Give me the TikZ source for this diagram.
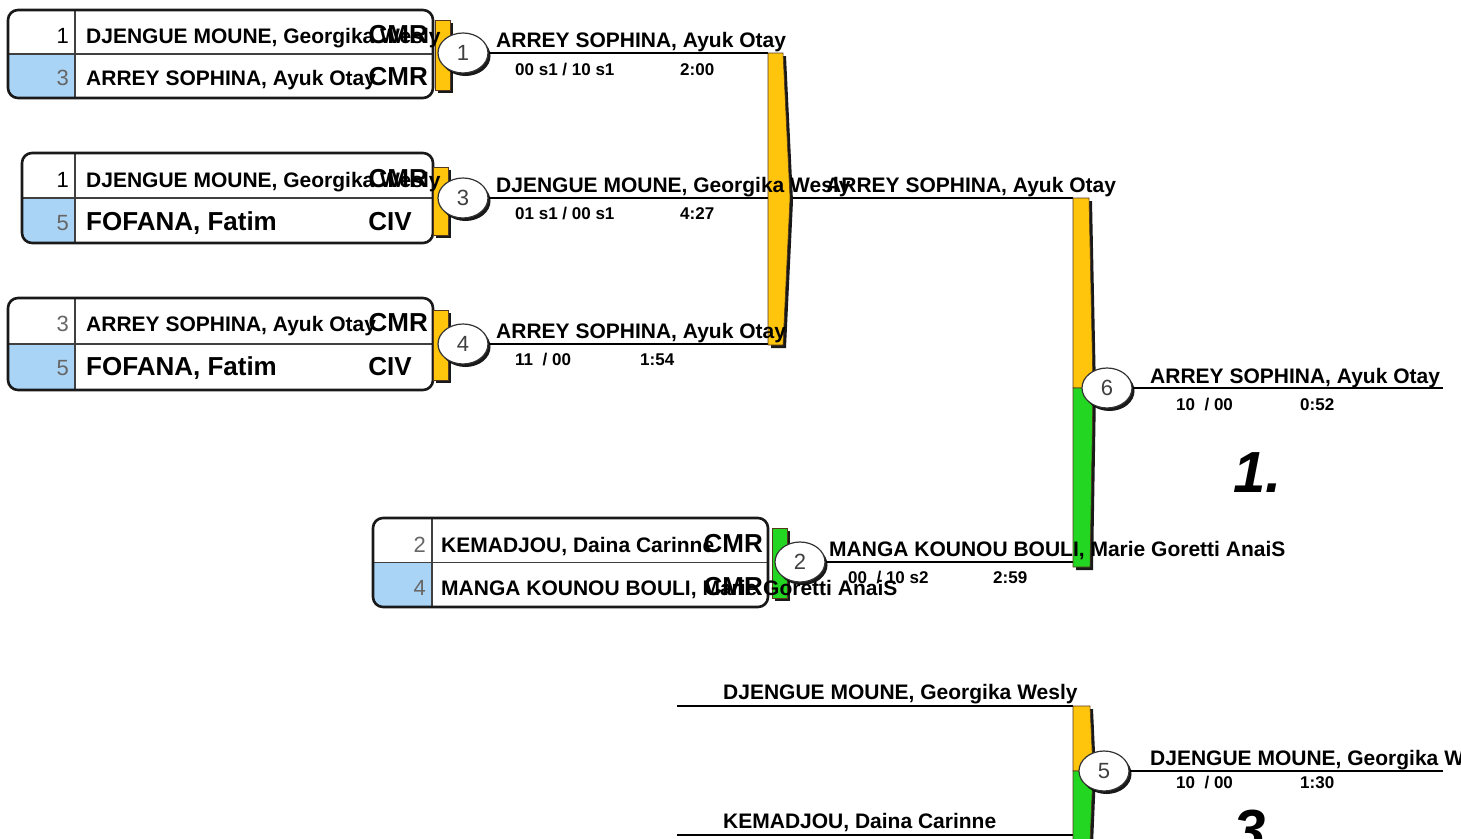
\documentclass[tikz,border=0pt]{standalone}
\usepackage{fontspec}
\setmainfont{Liberation Sans}
\usepackage{xcolor}
\usetikzlibrary{shapes.geometric, shadows}
\definecolor{poolgold}{RGB}{255,196,12}
\definecolor{poolgreen}{RGB}{34,214,34}
\definecolor{seedblue}{RGB}{170,212,246}
\tikzset{
    boxframe/.style={line width=2.6, draw=black!90, rounded corners=10},
    rowline/.style={line width=1.1, draw=black!75},
    bracket/.style={line width=2.6},
    tabedge/.style={draw=black!55!brown, line width=0.6},
    matchno/.style={ellipse, draw=black!80, line width=1.2, fill=white, minimum width=50, minimum height=40, inner sep=0,
        font=\fontsize{22}{22}\selectfont, text=black!75,
        drop shadow={shadow xshift=2.5pt, shadow yshift=-3pt, fill=black, opacity=.9}},
    seed/.style={anchor=base east, inner sep=0, font=\fontsize{22}{22}\selectfont, text=black!60},
    athlete/.style={anchor=base west, inner sep=0, font=\fontsize{21}{21}\selectfont\bfseries},
    bigathlete/.style={anchor=base west, inner sep=0, font=\fontsize{26}{26}\selectfont\bfseries},
    nation/.style={anchor=base east, inner sep=0, font=\fontsize{26}{26}\selectfont\bfseries},
    result/.style={anchor=base west, inner sep=0, font=\fontsize{17}{17}\selectfont\bfseries},
    place/.style={anchor=base west, inner sep=0, font=\fontsize{58}{58}\selectfont\bfseries\itshape}
}

\begin{document}
\begin{tikzpicture}[x=1pt, y=-1pt]
    \useasboundingbox (0,0) rectangle (1461,838);
    % end points of the brackets
    \coordinate (b1t) at (768,53);
    \coordinate (b1b) at (768,344);
    \coordinate (b2t) at (1073,198);
    \coordinate (b2b) at (1073,562);
    \coordinate (b2m) at (1093,388);
    \coordinate (b3t) at (1073,706);
    \coordinate (b3b) at (1073,835);
    \coordinate (b3m) at (1093,771);
    \coordinate (q1) at (677,706);
    \coordinate (q2) at (677,835);
    \coordinate (e6) at (1443,388);
    \coordinate (e5) at (1443,771);
    % match boxes
    \foreach \xa/\ya/\xb/\yb/\xs in {8/10/433/98/75, 22/153/433/243/75, 8/298/433/390/75, 373/518/768/607/432}{
        \begin{scope}
            \clip[rounded corners=10] (\xa,\ya) rectangle (\xb,\yb);
            \fill[seedblue] (\xa,{(\ya+\yb)/2}) rectangle (\xs,\yb);
        \end{scope}
        \draw[rowline] (\xa,{(\ya+\yb)/2}) -- (\xb,{(\ya+\yb)/2}) (\xs,\ya) -- (\xs,\yb);
        \draw[boxframe] (\xa,\ya) rectangle (\xb,\yb);
    }
    % tabs
    \foreach \xa/\ya/\yb/\col in {435/20/90/poolgold, 433/167/235/poolgold, 433/310/380/poolgold, 772/528/598/poolgreen}{
        \fill[black!90] (\xa+3,\ya+3) rectangle (\xa+18,\yb+3);
        \filldraw[fill=\col, tabedge] (\xa,\ya) rectangle (\xa+15,\yb);
    }
    % box texts
    \node[seed, text=black] (s1a) at (69,43) {1};
    \node[athlete] (n1a) at (86,43) {DJENGUE MOUNE, Georgika Wesly};
    \node[nation] (k1a) at (428,43) {CMR};
    \node[seed] (s1b) at (69,85) {3};
    \node[athlete] (n1b) at (86,85) {ARREY SOPHINA, Ayuk Otay};
    \node[nation] (k1b) at (428,85) {CMR};
    \node[seed, text=black] (s3a) at (69,187) {1};
    \node[athlete] (n3a) at (86,187) {DJENGUE MOUNE, Georgika Wesly};
    \node[nation] (k3a) at (428,187) {CMR};
    \node[seed] (s3b) at (69,230) {5};
    \node[bigathlete] (n3b) at (86,230) {FOFANA, Fatim};
    \node[nation] (k3b) at (412,230) {CIV};
    \node[seed] (s4a) at (69,331) {3};
    \node[athlete] (n4a) at (86,331) {ARREY SOPHINA, Ayuk Otay};
    \node[nation] (k4a) at (428,331) {CMR};
    \node[seed] (s4b) at (69,375) {5};
    \node[bigathlete] (n4b) at (86,375) {FOFANA, Fatim};
    \node[nation] (k4b) at (412,375) {CIV};
    \node[seed] (s2a) at (426,552) {2};
    \node[athlete] (n2a) at (441,552) {KEMADJOU, Daina Carinne};
    \node[nation] (k2a) at (763,552) {CMR};
    \node[seed] (s2b) at (426,595) {4};
    \node[athlete] (n2b) at (441,595) {MANGA KOUNOU BOULI, Marie Goretti AnaiS};
    \node[nation] (k2b) at (763,595) {CMR};
    % match numbers of the first round
    \node[matchno] (c1) at (463,53) {1};
    \node[matchno] (c3) at (463,198) {3};
    \node[matchno] (c4) at (463,344) {4};
    \node[matchno] (c2) at (800,562) {2};
    % bracket lines
    \draw[bracket] (c1) -- (b1t);
    \draw[bracket] (c3) -- (b2t);
    \draw[bracket] (c4) -- (b1b);
    \draw[bracket] (c2) -- (b2b);
    \draw[bracket] (q1) -- (b3t);
    \draw[bracket] (q2) -- (b3b);
    % pool bar
    \fill[black!90] (771,56) -- (786,56) -- (793,201) -- (786,348) -- (771,348) -- cycle;
    \filldraw[fill=poolgold, tabedge] (b1t) -- (783,53) -- (790,198) -- (783,345) -- (768,345) -- cycle;
    % final bar
    \fill[black!90] (1076,201) -- (1092,201) -- (1096,391) -- (1093,570) -- (1076,570) -- cycle;
    \filldraw[fill=poolgold, tabedge] (b2t) -- (1089,198) -- (b2m) -- (1073,388) -- cycle;
    \filldraw[fill=poolgreen, tabedge] (1073,388) -- (b2m) -- (1090,567) -- (1073,567) -- cycle;
    % third place bar
    \fill[black!90] (1076,709) -- (1093,709) -- (1096,774) -- (1093,845) -- (1076,845) -- cycle;
    \filldraw[fill=poolgold, tabedge] (b3t) -- (1090,706) -- (b3m) -- (1073,771) -- cycle;
    \filldraw[fill=poolgreen, tabedge] (1073,771) -- (b3m) -- (1090,842) -- (1073,842) -- cycle;
    % final and third place
    \node[matchno] (c6) at (1107,388) {6};
    \node[matchno] (c5) at (1104,771) {5};
    \draw[bracket] (c6) -- (e6);
    \draw[bracket] (c5) -- (e5);
    % results
    \node[athlete] (w1) at (496,47) {ARREY SOPHINA, Ayuk Otay};
    \node[result] (r1) at (515,75) {00 s1 / 10 s1};
    \node[result] (t1) at (680,75) {2:00};
    \node[athlete] (w3) at (496,192) {DJENGUE MOUNE, Georgika Wesly};
    \node[result] (r3) at (515,219) {01 s1 / 00 s1};
    \node[result] (t3) at (680,219) {4:27};
    \node[athlete] (wp) at (826,192) {ARREY SOPHINA, Ayuk Otay};
    \node[athlete] (w4) at (496,338) {ARREY SOPHINA, Ayuk Otay};
    \node[result] (r4) at (515,365) {11\ \ / 00};
    \node[result] (t4) at (640,365) {1:54};
    \node[athlete] (w2) at (829,556) {MANGA KOUNOU BOULI, Marie Goretti AnaiS};
    \node[result] (r2) at (848,583) {00\ \ / 10 s2};
    \node[result] (t2) at (993,583) {2:59};
    \node[athlete] (w6) at (1150,383) {ARREY SOPHINA, Ayuk Otay};
    \node[result] (r6) at (1176,410) {10\ \ / 00};
    \node[result] (t6) at (1300,410) {0:52};
    \node[place] (p1) at (1233,492) {1.};
    \node[athlete] (f1) at (723,699) {DJENGUE MOUNE, Georgika Wesly};
    \node[athlete] (f2) at (723,828) {KEMADJOU, Daina Carinne};
    \node[athlete] (w5) at (1150,765) {DJENGUE MOUNE, Georgika Wesly};
    \node[result] (r5) at (1176,788) {10\ \ / 00};
    \node[result] (t5) at (1300,788) {1:30};
    \node[place] (p3) at (1233,850) {3.};
\end{tikzpicture}
\end{document}
